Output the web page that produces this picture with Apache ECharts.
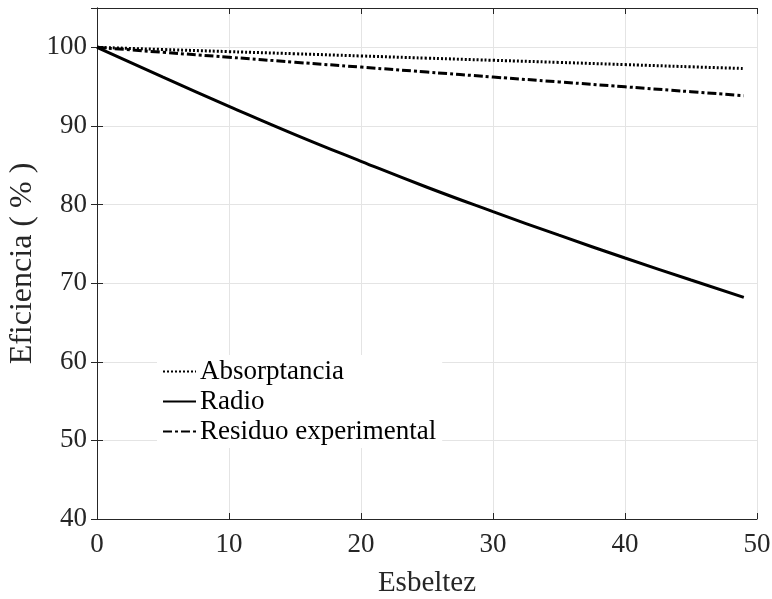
<!DOCTYPE html>
<html>
<head>
<meta charset="utf-8">
<script src="https://cdn.jsdelivr.net/npm/echarts@6/dist/echarts.min.js"></script>
<style>
  html, body { margin: 0; padding: 0; background: #fff; }
  #chart { width: 772px; height: 599px; }
</style>
</head>
<body>
<div id="chart"></div>
<script>
// esbeltez values (x)
const esbeltez = [0, 5, 10, 15, 20, 25, 30, 35, 40, 45, 49];
// eficiencia (%) per series
const absorptancia = [100, 99.72, 99.45, 99.18, 98.9, 98.62, 98.35, 98.08, 97.8, 97.52, 97.3];
const radio = [100, 96.2, 92.5, 88.9, 85.5, 82.2, 79.1, 76.1, 73.2, 70.4, 68.2];
const residuo = [100, 99.36, 98.74, 98.1, 97.48, 96.85, 96.22, 95.6, 94.98, 94.35, 93.85];

const xTicks = { min: 0, max: 50, interval: 10 };
const yTicks = { min: 40, max: 105, interval: 10 };

const font = 'Liberation Serif';
const axisColor = '#262626';

const pairs = (ys) => esbeltez.map((x, i) => [x, ys[i]]);

const chart = echarts.init(document.getElementById('chart'));

const baseAxis = {
    axisLine: { show: true, lineStyle: { color: axisColor, width: 1 } },
    axisTick: { show: true, inside: true, length: 6, lineStyle: { color: axisColor } },
};

chart.setOption({
    backgroundColor: '#fff',
    animation: false,
    grid: { left: 97, right: 15, top: 8, bottom: 80, outerBoundsMode: 'none', containLabel: false },
    legend: {
        orient: 'vertical',
        left: 157,
        top: 355,
        backgroundColor: '#fff',
        padding: [3, 6, 3, 5],
        itemWidth: 33,
        itemHeight: 14,
        itemGap: 3,
        itemStyle: { opacity: 0 },
        textStyle: { fontFamily: font, fontSize: 27, lineHeight: 27, color: '#000', padding: [0, 0, 0, -1] },
        data: ['Absorptancia', 'Radio', 'Residuo experimental']
    },
    xAxis: [
        Object.assign({}, baseAxis, {
            type: 'value', ...xTicks,
            name: 'Esbeltez', nameLocation: 'middle', nameGap: 50,
            nameTextStyle: { fontFamily: font, fontSize: 29, color: '#262626' },
            axisLabel: { fontFamily: font, fontSize: 27, color: '#262626', margin: 12 },
            splitLine: { show: true, lineStyle: { color: '#e4e4e4', width: 1 } }
        }),
        Object.assign({}, baseAxis, {
            type: 'value', ...xTicks, position: 'top',
            axisLabel: { show: false }, splitLine: { show: false }
        })
    ],
    yAxis: [
        Object.assign({}, baseAxis, {
            type: 'value', ...yTicks,
            name: 'Eficiencia ( % )', nameLocation: 'middle', nameGap: 58,
            nameMoveOverlap: false,
            nameTextStyle: { fontFamily: font, fontSize: 32, color: '#262626' },
            axisLabel: { fontFamily: font, fontSize: 27, color: '#262626', margin: 10, showMaxLabel: false },
            splitLine: { show: true, lineStyle: { color: '#e4e4e4', width: 1 } }
        }),
        Object.assign({}, baseAxis, {
            type: 'value', ...yTicks, position: 'right',
            axisLabel: { show: false }, splitLine: { show: false }
        })
    ],
    series: [
        {
            name: 'Absorptancia', type: 'line', symbol: 'none', smooth: true,
            data: pairs(absorptancia),
            lineStyle: { color: '#000', width: 3, type: [2, 2] },
            itemStyle: { color: '#000' }
        },
        {
            name: 'Radio', type: 'line', symbol: 'none', smooth: true,
            data: pairs(radio),
            lineStyle: { color: '#000', width: 3, type: 'solid' },
            itemStyle: { color: '#000' }
        },
        {
            name: 'Residuo experimental', type: 'line', symbol: 'none', smooth: true,
            data: pairs(residuo),
            lineStyle: { color: '#000', width: 3, type: [9, 3, 3, 3] },
            itemStyle: { color: '#000' }
        }
    ]
});
</script>
</body>
</html>
